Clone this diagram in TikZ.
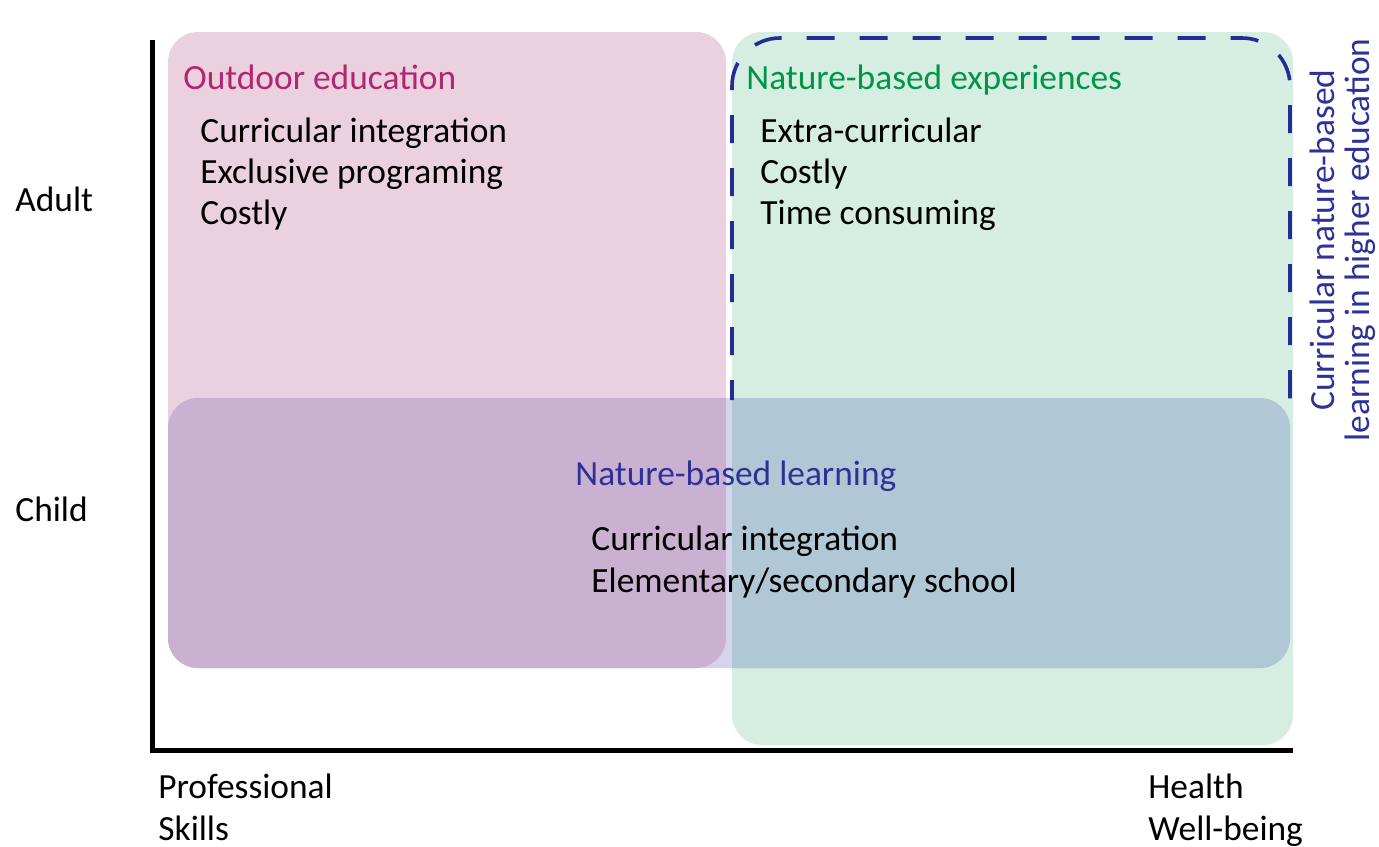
\documentclass[tikz,border=0pt]{standalone}
\usepackage{fontspec}
\setmainfont{Carlito}
\begin{document}
\definecolor{pinkfill}{RGB}{235,208,223}
\definecolor{greenfill}{RGB}{214,238,226}
\definecolor{purplemix}{RGB}{202,176,209}
\definecolor{bluemix}{RGB}{176,200,214}
\definecolor{lavender}{RGB}{214,212,236}
\definecolor{magentatext}{RGB}{178,38,112}
\definecolor{greentext}{RGB}{0,150,72}
\definecolor{bluetext}{RGB}{45,50,150}
\definecolor{dashblue}{RGB}{35,45,150}
\tikzset{
  lbl/.style={anchor=base west, inner sep=0pt, font=\fontsize{17.7}{21}\selectfont},
  heading/.style={lbl},
  axisline/.style={line width=2.5pt, black},
  zone/.style={rounded corners=15pt},
}
\begin{tikzpicture}[x=0.5pt, y=-0.5pt]
\useasboundingbox (0,0) rectangle (1379,846);
% regions
\fill[pinkfill, zone] (168,32) rectangle (726,668);
\fill[greenfill, zone] (732,32) rectangle (1293,745);
\fill[lavender, zone] (168,398) rectangle (1290,668);
\begin{scope}
  \clip[zone] (168,32) rectangle (726,668);
  \fill[purplemix, zone] (168,398) rectangle (1290,668);
\end{scope}
\begin{scope}
  \clip[zone] (732,32) rectangle (1293,745);
  \fill[bluemix, zone] (168,398) rectangle (1290,668);
\end{scope}
% dashed outline of the higher-education zone
\draw[dashblue, line width=1.8pt, dash pattern=on 14pt off 12.5pt, dash phase=4pt, rounded corners=24pt]
  (732,400) -- (732,38) -- (1290,38) -- (1290,410);
% axes
\coordinate (ytop) at (152,40);
\coordinate (origin) at (152,750);
\coordinate (xend) at (1293,750);
\draw[axisline] (ytop) -- (origin) -- (xend);
% outdoor education
\node[heading, text=magentatext] (oe) at (183,89) {Outdoor education};
\node[lbl] (oe1) at (200,142) {Curricular integration};
\node[lbl] (oe2) at (200,183) {Exclusive programing};
\node[lbl] (oe3) at (200,224) {Costly};
% nature-based experiences
\node[heading, text=greentext] (ne) at (746,89) {Nature-based experiences};
\node[lbl] (ne1) at (760,142) {Extra-curricular};
\node[lbl] (ne2) at (760,183) {Costly};
\node[lbl] (ne3) at (760,224) {Time consuming};
% nature-based learning
\node[heading, text=bluetext] (nl) at (575,485) {Nature-based learning};
\node[lbl] (nl1) at (591,550) {Curricular integration};
\node[lbl] (nl2) at (591,592) {Elementary/secondary school};
% axis labels
\node[lbl] (adult) at (15,211) {Adult};
\node[lbl] (child) at (15,521) {Child};
\node[lbl] (prof) at (158,798) {Professional};
\node[lbl] (skills) at (158,840) {Skills};
\node[lbl] (health) at (1148,798) {Health};
\node[lbl] (well) at (1148,840) {Well-being};
% higher education label
\node[rotate=90, align=center, text=bluetext, inner sep=0pt,
      font=\fontsize{17.7}{17.5}\selectfont] (he) at (1343,240)
  {Curricular nature-based\\learning in higher education};
\end{tikzpicture}
\end{document}
